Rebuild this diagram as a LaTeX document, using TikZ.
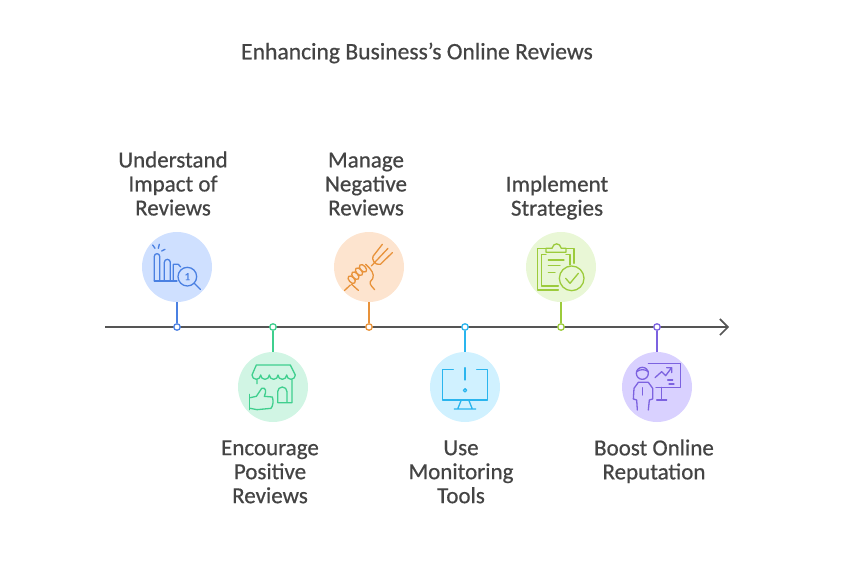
\documentclass[tikz,border=0pt]{standalone}
\usepackage{fontspec}
\setmainfont{Carlito}[RawFeature={embolden=0.6}]
\usetikzlibrary{positioning,arrows.meta}
\definecolor{axisgray}{HTML}{555555}
\definecolor{textgray}{HTML}{444444}
\definecolor{blueline}{HTML}{4A80E2}
\definecolor{bluefill}{HTML}{CFE0FF}
\definecolor{greenline}{HTML}{3FCF8E}
\definecolor{greenfill}{HTML}{D1F5E4}
\definecolor{orangeline}{HTML}{E8923A}
\definecolor{orangefill}{HTML}{FDE4CF}
\definecolor{cyanline}{HTML}{2AB5EE}
\definecolor{cyanfill}{HTML}{D0F1FF}
\definecolor{limeline}{HTML}{9CCB3B}
\definecolor{limefill}{HTML}{E9F7D6}
\definecolor{purpleline}{HTML}{7C62E0}
\definecolor{purplefill}{HTML}{D9D1FF}
\begin{document}
\begin{tikzpicture}[x=1pt, y=-1pt, node distance={96pt},
  main/.style = {circle, minimum size=70pt, inner sep=0pt},
  pin/.style = {circle, draw, fill=white, line width=1.3pt, minimum size=6.5pt, inner sep=0pt},
  stem/.style = {line width=1.6pt},
  icon/.style = {line width=1.3pt, line join=round, line cap=round},
  caption/.style = {align=center, text=textgray, inner sep=0pt, font=\fontsize{23}{24}\selectfont}]
\useasboundingbox (0,0) rectangle (853,569);

\coordinate (start) at (105,327);
\coordinate (end) at (729,327);
\draw[axisgray, line width=1.6pt, -{Straight Barb[length=8pt,width=16pt]}] (start) -- (end);

\node[pin, draw=blueline] (p1) at (177,327) {};
\node[pin, draw=greenline] (p2) [right of=p1] {};
\node[pin, draw=orangeline] (p3) [right of=p2] {};
\node[pin, draw=cyanline] (p4) [right of=p3] {};
\node[pin, draw=limeline] (p5) [right of=p4] {};
\node[pin, draw=purpleline] (p6) [right of=p5] {};

\node[main, fill=bluefill] (c1) [above of=p1, node distance=60pt] {};
\node[main, fill=greenfill] (c2) [below of=p2, node distance=60pt] {};
\node[main, fill=orangefill] (c3) [above of=p3, node distance=60pt] {};
\node[main, fill=cyanfill] (c4) [below of=p4, node distance=60pt] {};
\node[main, fill=limefill] (c5) [above of=p5, node distance=60pt] {};
\node[main, fill=purplefill] (c6) [below of=p6, node distance=60pt] {};

\draw[stem, blueline] (c1) -- (p1);
\draw[stem, greenline] (c2) -- (p2);
\draw[stem, orangeline] (c3) -- (p3);
\draw[stem, cyanline] (c4) -- (p4);
\draw[stem, limeline] (c5) -- (p5);
\draw[stem, purpleline] (c6) -- (p6);

\node[caption, font=\fontsize{23.6}{24}\selectfont] (title) at (417,53) {Enhancing Business's Online Reviews};
\node[caption, anchor=south] (t1) [above=16pt of c1, xshift=-4pt] {Understand\\Impact of\\Reviews};
\node[caption, anchor=north] (t2) [below=18pt of c2, xshift=-3pt] {Encourage\\Positive\\Reviews};
\node[caption, anchor=south] (t3) [above=16pt of c3, xshift=-3pt] {Manage\\Negative\\Reviews};
\node[caption, anchor=north] (t4) [below=18pt of c4, xshift=-4pt] {Use\\Monitoring\\Tools};
\node[caption, anchor=south] (t5) [above=12pt of c5, xshift=-4pt] {Implement\\Strategies};
\node[caption, anchor=north] (t6) [below=17pt of c6, xshift=-3pt] {Boost Online\\Reputation};

\begin{scope}[shift={(141,231)}, scale=1/3, icon, blueline]
\draw (35,42) -- (42,52) (55,40) -- (52,52) (72,55) -- (62,60);
\draw (40,150) -- (40,76) arc[start angle=180, end angle=360, radius=8] -- (56,150);
\draw (70,150) -- (70,94) arc[start angle=180, end angle=360, radius=9] -- (88,150);
\draw (40,150) -- (108,150);
\draw (97,148) -- (97,100) -- (112,100) -- (119,108);
\draw (139,137) circle (28);
\draw (160,157) -- (178,175);
\node[inner sep=0pt, font=\fontsize{11}{11}\selectfont] (one) at (139,137) {1};
\end{scope}

\begin{scope}[shift={(237,351)}, scale=1/3, icon, greenline]
\draw (58,42) -- (160,42) -- (175,72) arc[start angle=0, end angle=180, radius=13]
  arc[start angle=0, end angle=180, radius=13] arc[start angle=0, end angle=180, radius=13]
  arc[start angle=0, end angle=180, radius=13] arc[start angle=0, end angle=180, radius=13] -- cycle;
\draw (60,86) -- (60,98) (165,86) -- (165,155) -- (122,155) -- (122,122) arc[start angle=180, end angle=360, radius=14] -- (150,155);
\draw (38,130) -- (38,176);
\draw (40,140) -- (58,136) -- (74,112) .. controls (88,108) and (88,122) .. (82,136) -- (106,138) .. controls (110,150) and (108,165) .. (102,172) -- (60,176) -- (40,172);
\end{scope}

\begin{scope}[shift={(333,231)}, scale=1/3, icon, orangeline]
\draw (148,40) -- (120,76) .. controls (116,84) and (124,104) .. (142,100) -- (178,65);
\draw (165,52) -- (115,105);
\draw (35,178) -- (52,162) (56,160) -- (76,178);
\foreach \fx/\fy in {56/146, 67/134, 78/122, 90/112}
  \draw ({\fx-9},{\fy-10}) .. controls ({\fx-1},{\fy-17}) and ({\fx+17},{\fy+3}) .. ({\fx+9},{\fy+10}) .. controls ({\fx+1},{\fy+17}) and ({\fx-17},{\fy-3}) .. cycle;
\draw (98,100) -- (110,112) .. controls (122,125) and (126,140) .. (112,152) .. controls (108,160) and (120,170) .. (125,176);
\end{scope}

\begin{scope}[shift={(325,225)}, scale=1/3, icon, cyanline]
\draw (385,433) -- (353,433) -- (353,525) -- (487,525) -- (487,433) -- (455,433);
\draw (420,428) -- (420,465);
\draw (420,496) circle (5);
\draw (408,527) -- (398,552) (432,527) -- (442,552) (388,552) -- (452,552);
\end{scope}

\begin{scope}[shift={(520,225)}, scale=1/3, icon, limeline]
\draw (78,70) -- (53,70) -- (53,195) -- (115,195);
\draw (78,88) -- (65,88) -- (65,183) -- (115,183);
\draw (78,82) -- (78,70) -- (96,70) .. controls (100,52) and (120,52) .. (124,70) -- (138,70) -- (138,82) -- cycle;
\draw (138,70) -- (162,70) -- (162,115) (138,88) -- (150,88) -- (150,120);
\draw (85,105) -- (132,105) (85,122) -- (120,122) (85,142) -- (105,142);
\draw (155,160) circle (37);
\draw (137,160) -- (150,175) -- (175,145);
\end{scope}

\begin{scope}[shift={(520,225)}, scale=1/3, icon, purpleline]
\draw (385,416) -- (482,416) -- (482,487) -- (408,487);
\draw (425,487) -- (425,525) (410,525) -- (440,525);
\draw (405,458) -- (425,440) -- (437,452) -- (455,428) (440,428) -- (455,428) -- (455,443);
\draw (443,465) -- (458,465) (447,477) -- (462,477);
\draw (367,445) circle (18);
\draw (350,440) .. controls (360,432) and (375,432) .. (385,440);
\draw (352,555) -- (350,525) -- (340,522) -- (342,490) -- (355,472) -- (385,472) -- (398,490) -- (398,522) -- (388,525) -- (385,555);
\draw (368,488) -- (368,510);
\end{scope}

\end{tikzpicture}
\end{document}
